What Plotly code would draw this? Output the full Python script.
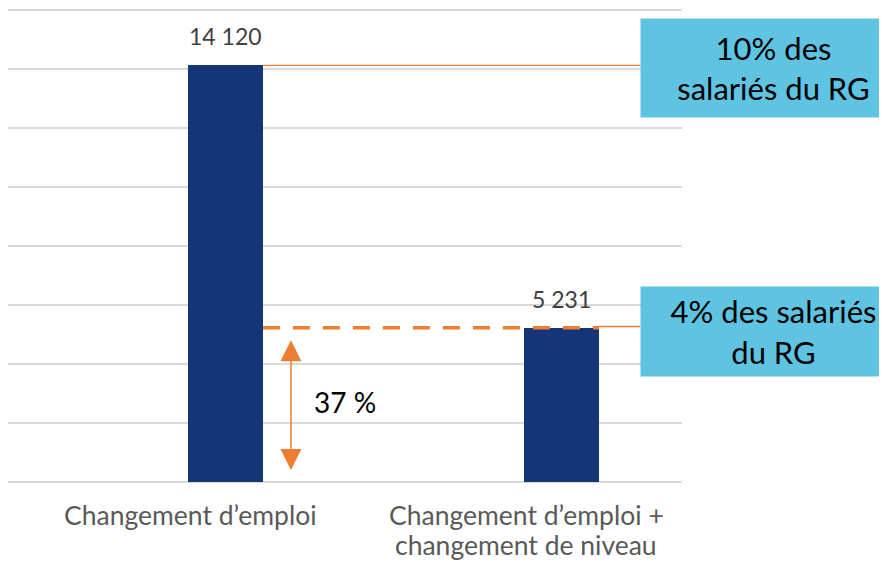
import plotly.graph_objects as go

categories = ["Changement d’emploi", "Changement d’emploi +<br>changement de niveau"]
values = [14120, 5231]
value_labels = ["14 120", "5 231"]
share_labels = ["10% des<br>salariés du RG", "4% des salariés<br>du RG"]
ratio_label = "37 %"

FONT = "Lato"
BAR_COLOR = "#143578"
ORANGE = "#ED7D31"
BOX_COLOR = "#5EC4E2"
BAR_W = 0.223
BOX_X = 1.234
Y_MAX = 16068
xs = list(range(len(categories)))

fig = go.Figure()
fig.add_trace(go.Bar(
    x=xs, y=values, width=BAR_W, marker=dict(color=BAR_COLOR, line=dict(width=0)),
    cliponaxis=False, hoverinfo="skip",
))

# value labels above bars
for x, v, lab in zip(xs, values, value_labels):
    fig.add_annotation(x=x, y=v, xref="x", yref="y", text=lab, showarrow=False,
                       yanchor="middle", yshift=29, font=dict(family=FONT, size=23, color="#404040"))

# orange reference lines
fig.add_shape(type="line", xref="x", yref="y", x0=xs[0] + BAR_W / 2, x1=BOX_X, y0=values[0], y1=values[0],
              line=dict(color=ORANGE, width=1.3), layer="above")
fig.add_shape(type="line", xref="x", yref="y", x0=xs[0] + BAR_W / 2, x1=xs[1] + BAR_W / 2,
              y0=values[1], y1=values[1], line=dict(color=ORANGE, width=3.5, dash="17px,13px"), layer="above")
fig.add_shape(type="line", xref="x", yref="y", x0=xs[1] + BAR_W / 2, x1=BOX_X,
              y0=values[1] + 40, y1=values[1] + 40, line=dict(color=ORANGE, width=1.3), layer="above")

# double-headed arrow
arrow_x = xs[0] + 0.195
fig.add_annotation(x=arrow_x, y=0, ax=arrow_x, ay=values[1], xref="x", yref="y", axref="x", ayref="y",
                   text="", showarrow=True, arrowhead=2, startarrowhead=2, arrowside="end+start",
                   arrowwidth=1.5, arrowsize=2.8, startarrowsize=2.8, arrowcolor=ORANGE,
                   standoff=12, startstandoff=11)
fig.add_annotation(x=arrow_x, y=values[1] * 0.52, xref="x", yref="y", text=ratio_label, showarrow=False,
                   xanchor="left", xshift=21, font=dict(family=FONT, size=28, color="#000000"))

# category labels (one annotation per line for tighter leading)
for i, c in enumerate(categories):
    for j, line in enumerate(c.split("<br>")):
        fig.add_annotation(x=xs[i], y=0, xref="x", yref="paper", text=line, showarrow=False,
                           xanchor="center", yanchor="middle", xshift=-35, yshift=-33 - 30 * j,
                           font=dict(family=FONT, size=26.5, color="#595959"))

# share boxes
for v, lab, h, dy in zip(values, share_labels, [98, 89], [-3, -3.5]):
    fig.add_annotation(x=BOX_X, y=v, xref="x", yref="y", text=lab, showarrow=False,
                       xanchor="left", yanchor="middle", yshift=dy, width=265, height=h, bgcolor=BOX_COLOR,
                       borderpad=0, align="center", font=dict(family=FONT, size=31, color="#000000"))

fig.update_layout(
    width=887, height=563, margin=dict(l=0, r=213, t=0, b=89),
    plot_bgcolor="white", paper_bgcolor="white", showlegend=False,
    xaxis=dict(range=[-0.647, 1.3586], showticklabels=False, showgrid=False, zeroline=False, fixedrange=True),
    yaxis=dict(range=[0, Y_MAX], tickvals=list(range(0, 16001, 2000)), showticklabels=False, showgrid=True,
               gridcolor="#d9d9d9", gridwidth=2, zeroline=True, zerolinecolor="#d9d9d9", zerolinewidth=2),
    bargap=0,
)
fig.write_html("out.html")
